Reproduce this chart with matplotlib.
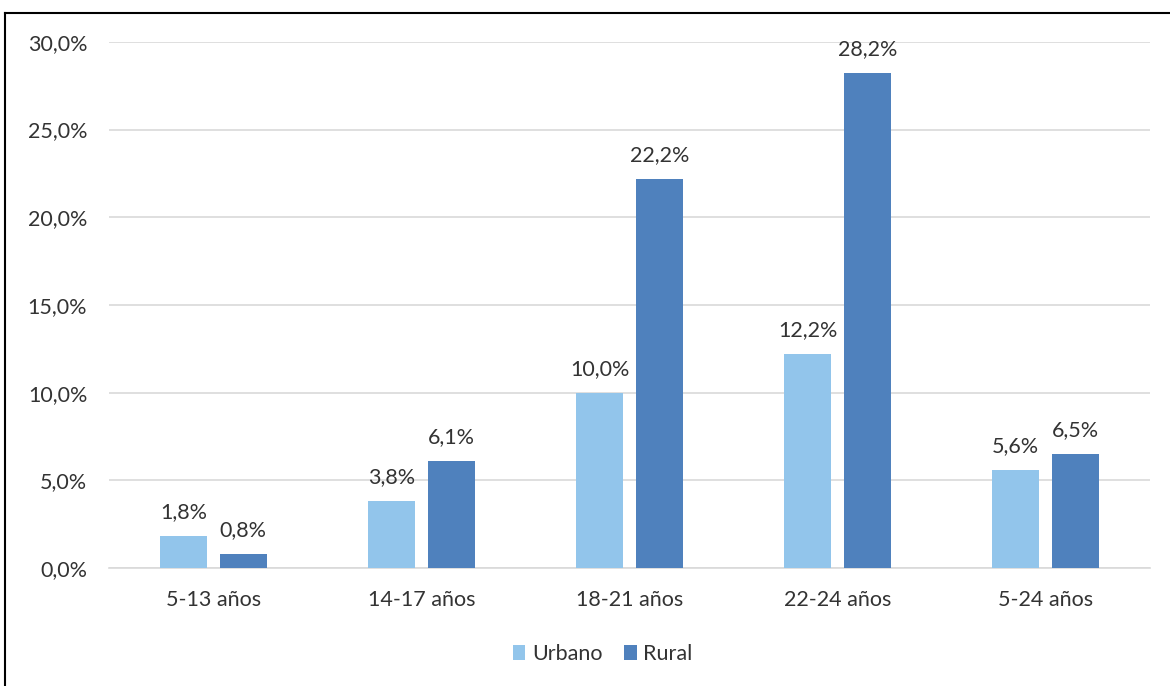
import numpy as np
import matplotlib.pyplot as plt
from matplotlib.lines import Line2D

# Data
categories = ["5-13 años", "14-17 años", "18-21 años", "22-24 años", "5-24 años"]
urbano = [1.8, 3.8, 10.0, 12.2, 5.6]
rural = [0.8, 6.1, 22.2, 28.2, 6.5]
yticks = [0, 5, 10, 15, 20, 25, 30]

plt.rcParams['font.family'] = ['Lato', 'DejaVu Sans']

fig = plt.figure(figsize=(11.7, 6.86), dpi=100)
ax = fig.add_axes([0.0935, 0.172, 0.889, 0.767])

x = np.arange(len(categories))
w = 0.225
off = 0.144
b1 = ax.bar(x - off, urbano, w, color="#92C5EB", label="Urbano", zorder=3)
b2 = ax.bar(x + off, rural, w, color="#4F81BD", label="Rural", zorder=3)

def fmt(v):
    return "{:.1f}%".format(v).replace(".", ",")

for bars, vals in [(b1, urbano), (b2, rural)]:
    for b, v in zip(bars, vals):
        ax.annotate(fmt(v), (b.get_x() + b.get_width() / 2, v),
                    xytext=(0, 10), textcoords="offset points",
                    ha="center", va="bottom", fontsize=15.5, color="#333333")

ax.set_xlim(-0.5, len(categories) - 0.5)
ax.set_ylim(0, 30)
ax.set_yticks(yticks)
ax.set_yticklabels([fmt(t) for t in yticks], fontsize=15.5, color="#333333")
ax.set_xticks(x)
ax.set_xticklabels(categories, fontsize=15.5, color="#333333")
ax.tick_params(axis="x", length=0, pad=16)
ax.tick_params(axis="y", length=0, pad=16)
ax.yaxis.grid(True, color="#D9D9D9", linewidth=1.2, zorder=0)
for s in ["top", "right", "left"]:
    ax.spines[s].set_visible(False)
ax.spines["bottom"].set_color("#D9D9D9")
ax.spines["bottom"].set_linewidth(1.2)

fig.legend(loc="center", bbox_to_anchor=(0.515, 0.046), ncol=2, frameon=False,
           fontsize=15.5, handlelength=0.6, handleheight=0.7, handletextpad=0.3,
           columnspacing=1.0, labelcolor="#333333")

# outer frame (top and left edges visible in the reference)
fig.add_artist(Line2D([0.004, 1.0], [0.981, 0.981], color="black", linewidth=1.5, transform=fig.transFigure))
fig.add_artist(Line2D([0.004, 0.004], [0.0, 0.981], color="black", linewidth=1.5, transform=fig.transFigure))

fig.savefig("out.png", dpi=100)
